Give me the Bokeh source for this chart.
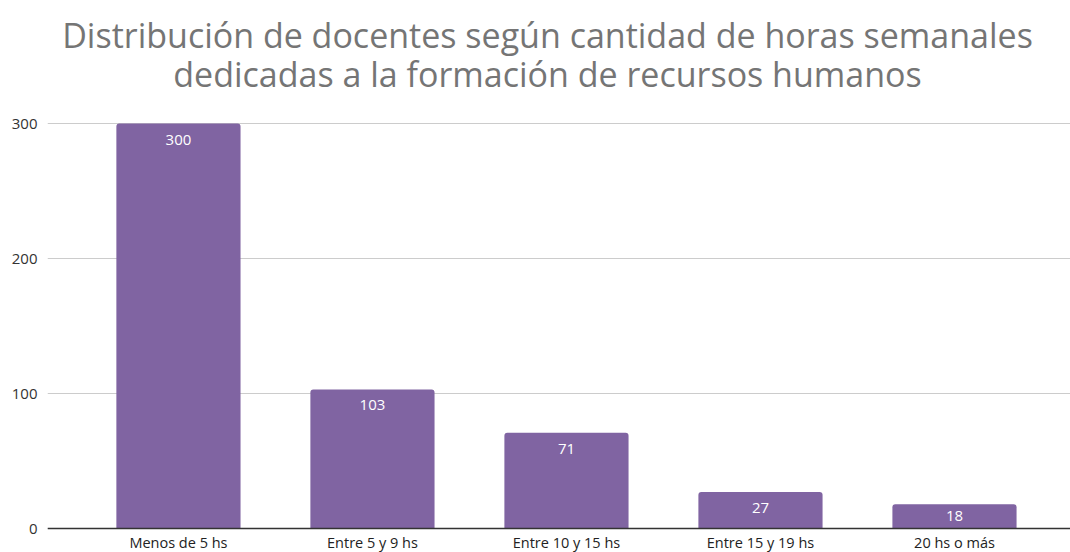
from bokeh.plotting import figure
from bokeh.models import ColumnDataSource, FixedTicker, Range1d, Label, Span
from bokeh.embed import file_html
from bokeh.resources import INLINE
from bokeh.core.properties import value

categories = ["Menos de 5 hs", "Entre 5 y 9 hs", "Entre 10 y 15 hs", "Entre 15 y 19 hs", "20 hs o más"]
counts = [300, 103, 71, 27, 18]
y_ticks = [0, 100, 200, 300]
title_lines = ["Distribución de docentes según cantidad de horas semanales",
               "dedicadas a la formación de recursos humanos"]

BAR = "#8064A2"
PX_PER_UNIT = 1.35
xs = list(range(len(categories)))
offsets = [min(16, v * PX_PER_UNIT / 2) for v in counts]
src = ColumnDataSource(dict(x=xs, top=counts, lbl=[str(c) for c in counts],
                            off=offsets, zero=[0] * len(xs), cat=categories))

p = figure(width=1070, height=552, output_backend="svg", toolbar_location=None,
           x_range=Range1d(-0.675, 4.598), y_range=Range1d(-24 / PX_PER_UNIT, 528 / PX_PER_UNIT),
           x_axis_location=None,
           min_border_left=47, min_border_top=0, min_border_right=0, min_border_bottom=0)
p.outline_line_color = None
p.background_fill_color = "white"
p.border_fill_color = "white"

p.ygrid.ticker = FixedTicker(ticks=y_ticks)
p.ygrid.grid_line_color = "#cccccc"
p.ygrid.grid_line_width = 1
p.xgrid.grid_line_color = None

p.vbar(x="x", top="top", bottom=0, width=0.64, source=src, fill_color=BAR, line_color=None,
       border_radius=(3, 3, 0, 0))
p.text(x="x", y="top", text="lbl", source=src, text_align="center", text_baseline="middle",
       y_offset="off", text_color="white", text_font=value("Open Sans"), text_font_size="15px")

p.add_layout(Span(location=0, dimension="width", line_color="#333333", line_width=1.5))

p.text(x="x", y="zero", text="cat", source=src, text_align="center", text_baseline="middle",
       y_offset=14, text_color="#222222", text_font=value("Open Sans"), text_font_size="14.5px")

p.yaxis.ticker = FixedTicker(ticks=y_ticks)
p.yaxis.major_label_text_font = "Open Sans"
p.yaxis.major_label_text_font_size = "15px"
p.yaxis.major_label_text_color = "#333333"
p.yaxis.axis_line_color = None
p.yaxis.major_tick_line_color = None
p.yaxis.minor_tick_line_color = None
p.yaxis.major_tick_out = 0
p.yaxis.major_tick_in = 0
p.yaxis.major_label_standoff = 10

for t, yy in zip(title_lines, [518, 479]):
    p.add_layout(Label(x=500, y=yy, x_units="screen", y_units="screen", text=t,
                       text_align="center", text_baseline="middle",
                       text_font="Open Sans", text_font_size="34px", text_color="#757575"))

open("out.html", "w").write(file_html(p, INLINE))
